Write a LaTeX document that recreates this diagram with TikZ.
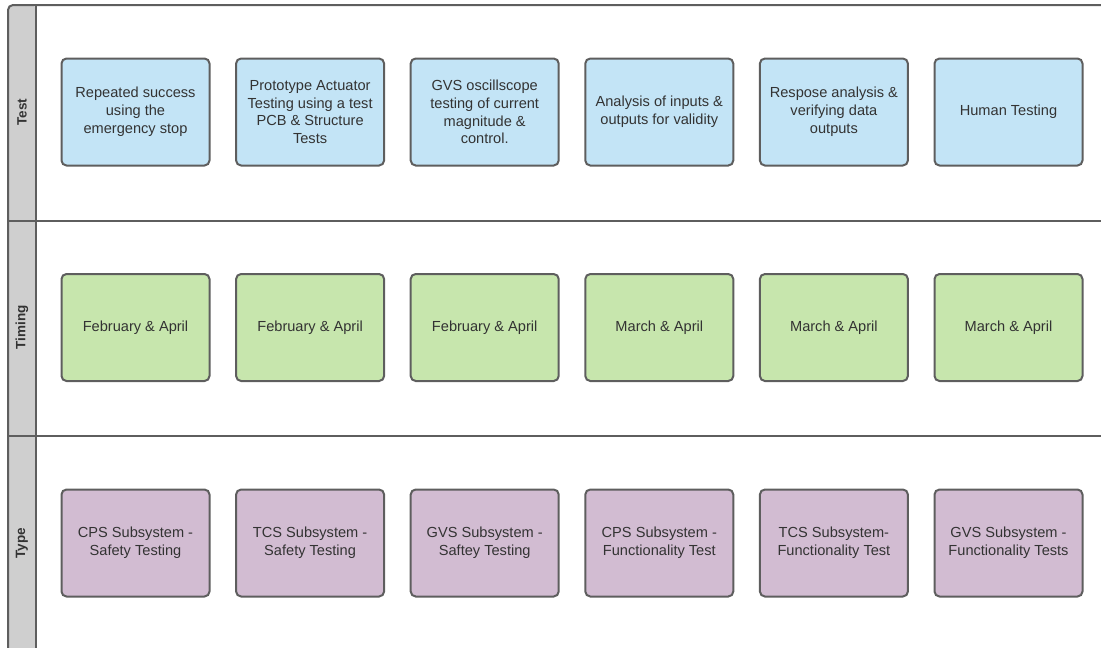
\documentclass[tikz,border=0pt]{standalone}
\usepackage{fontspec}
\setmainfont{Liberation Sans}
\definecolor{frame}{HTML}{5E5E5E}
\definecolor{headfill}{HTML}{CFCFCF}
\definecolor{txt}{HTML}{333333}
\definecolor{bluefill}{HTML}{C3E4F6}
\definecolor{greenfill}{HTML}{C7E6AD}
\definecolor{purplefill}{HTML}{D2BCD2}
\tikzset{
  card/.style={draw=frame, line width=2pt, rounded corners=5pt,
    minimum width=148pt, minimum height=107pt, inner sep=0pt,
    align=center, text=txt, font=\fontsize{14.6}{17.8}\selectfont},
  testcard/.style={card, fill=bluefill},
  timecard/.style={card, fill=greenfill},
  typecard/.style={card, fill=purplefill},
  lanelabel/.style={rotate=90, text=txt, font=\fontsize{13.5}{16}\selectfont\bfseries},
  laneline/.style={draw=frame, line width=2pt}
}
\begin{document}
\begin{tikzpicture}[x=1pt, y=-1pt]
\useasboundingbox (0,0) rectangle (1101,648);
% header column
\fill[headfill, rounded corners=5pt] (8,660) -- (8,5) -- (36,5) [sharp corners] -- (36,660) -- cycle;
% outer frame and lane separators
\draw[laneline, rounded corners=5pt] (8,660) -- (8,5) -- (1110,5);
\draw[laneline] (36,5) -- (36,660);
\draw[laneline] (8,220.5) -- (1110,220.5);
\draw[laneline] (8,435.5) -- (1110,435.5);
% lane titles
\node[lanelabel] (ltest) at (22,112) {Test};
\node[lanelabel] (ltime) at (22,327.5) {Timing};
\node[lanelabel] (ltype) at (22,543) {Type};
% test lane
\node[testcard] (t1) at (135.5,112) {Repeated success\\using the\\emergency stop};
\node[testcard] (t2) at (310.1,112) {Prototype Actuator\\Testing using a test\\PCB \& Structure\\Tests};
\node[testcard] (t3) at (484.7,112) {GVS oscillscope\\testing of current\\magnitude \&\\control.};
\node[testcard] (t4) at (659.3,112) {Analysis of inputs \&\\outputs for validity};
\node[testcard] (t5) at (833.9,112) {Respose analysis \&\\verifying data\\outputs};
\node[testcard] (t6) at (1008.5,112) {Human Testing};
% timing lane
\node[timecard] (m1) at (135.5,327.5) {February \& April};
\node[timecard] (m2) at (310.1,327.5) {February \& April};
\node[timecard] (m3) at (484.7,327.5) {February \& April};
\node[timecard] (m4) at (659.3,327.5) {March \& April};
\node[timecard] (m5) at (833.9,327.5) {March \& April};
\node[timecard] (m6) at (1008.5,327.5) {March \& April};
% type lane
\node[typecard] (y1) at (135.5,543) {CPS Subsystem -\\Safety Testing};
\node[typecard] (y2) at (310.1,543) {TCS Subsystem -\\Safety Testing};
\node[typecard] (y3) at (484.7,543) {GVS Subsystem -\\Saftey Testing};
\node[typecard] (y4) at (659.3,543) {CPS Subsystem -\\Functionality Test};
\node[typecard] (y5) at (833.9,543) {TCS Subsystem-\\Functionality Test};
\node[typecard] (y6) at (1008.5,543) {GVS Subsystem -\\Functionality Tests};
\end{tikzpicture}
\end{document}
